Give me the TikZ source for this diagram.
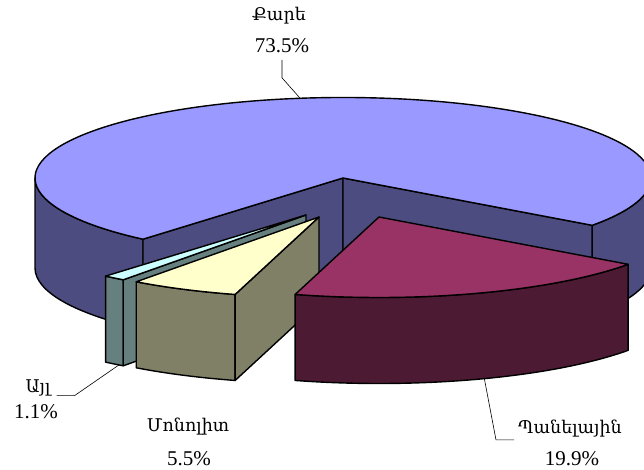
\documentclass[tikz,border=0pt]{standalone}
\usepackage{fontspec}
\setmainfont{Liberation Serif}
\newfontfamily\armfont{DejaVu Serif}
\definecolor{karetop}{HTML}{9999FF}
\definecolor{karesid}{HTML}{4C4C80}
\definecolor{paneltop}{HTML}{993366}
\definecolor{panelsid}{HTML}{4D1A33}
\definecolor{monotop}{HTML}{FFFFCC}
\definecolor{monosid}{HTML}{808066}
\definecolor{ayltop}{HTML}{CCFFFF}
\definecolor{aylsid}{HTML}{668080}
\begin{document}
\begin{tikzpicture}[x=1pt,y=1pt,
  slab/.style={draw=black,line width=1.4pt,line join=round},
  rim/.style={x radius=308pt,y radius=80.5pt},
  pctlbl/.style={font=\fontsize{21}{24}\selectfont,inner sep=1pt},
  armlbl/.style={font=\armfont\fontsize{17.5}{20}\selectfont,inner sep=1pt},
  leadline/.style={draw=black,line width=0.6pt}]
\useasboundingbox (0,0) rectangle (644,470);
\coordinate (K) at (343,292);
\coordinate (A) at (306,255);
\coordinate (M) at (319,253);
\coordinate (P) at (379,253);
% Kare
\filldraw[slab,fill=karesid] (K) ++(180:308pt and 80.5pt) arc[rim,start angle=180,end angle=229.5] -- ++(0,-90) arc[rim,start angle=229.5,end angle=180] -- cycle;
\filldraw[slab,fill=karesid] (K) ++(324:308pt and 80.5pt) arc[rim,start angle=324,end angle=360] -- ++(0,-90) arc[rim,start angle=360,end angle=324] -- cycle;
\filldraw[slab,fill=karesid] (K) -- ++(229.5:308pt and 80.5pt) -- ++(0,-90) -- ([yshift=-90pt]K) -- cycle;
\filldraw[slab,fill=karesid] (K) -- ++(324:308pt and 80.5pt) -- ++(0,-90) -- ([yshift=-90pt]K) -- cycle;
\filldraw[slab,fill=karetop] (K) -- ++(324:308pt and 80.5pt) arc[rim,start angle=324,end angle=589.5] -- cycle;
% Ayl
\filldraw[slab,fill=aylsid] (A) ++(229.4:308pt and 80.5pt) arc[rim,start angle=229.4,end angle=233.6] -- ++(0,-86) arc[rim,start angle=233.6,end angle=229.4] -- cycle;
\filldraw[slab,fill=aylsid] (A) -- ++(233.6:308pt and 80.5pt) -- ++(0,-86) -- ([yshift=-86pt]A) -- cycle;
\filldraw[slab,fill=ayltop] (A) -- ++(229.4:308pt and 80.5pt) arc[rim,start angle=229.4,end angle=233.6] -- cycle;
% Monolit
\filldraw[slab,fill=monosid] (M) ++(233.6:308pt and 80.5pt) arc[rim,start angle=233.6,end angle=254.2] -- ++(0,-86) arc[rim,start angle=254.2,end angle=233.6] -- cycle;
\filldraw[slab,fill=monosid] (M) -- ++(254.2:308pt and 80.5pt) -- ++(0,-86) -- ([yshift=-86pt]M) -- cycle;
\filldraw[slab,fill=monotop] (M) -- ++(233.6:308pt and 80.5pt) arc[rim,start angle=233.6,end angle=254.2] -- cycle;
% Panelayin
\filldraw[slab,fill=panelsid] (P) ++(254.2:308pt and 80.5pt) arc[rim,start angle=254.2,end angle=324] -- ++(0,-86) arc[rim,start angle=324,end angle=254.2] -- cycle;
\filldraw[slab,fill=paneltop] (P) -- ++(254.2:308pt and 80.5pt) arc[rim,start angle=254.2,end angle=324] -- cycle;
% labels
\node[armlbl] (kare name) at (279,454) {Քարե};
\node[pctlbl] (kare pct) at (282,424.5) {73.5\%};
\node[armlbl] (ayl name) at (38,82) {Այլ};
\node[pctlbl] (ayl pct) at (36,58) {1.1\%};
\node[armlbl] (mono name) at (188,43) {Մոնոլիտ};
\node[pctlbl] (mono pct) at (189,11.3) {5.5\%};
\node[armlbl] (panel name) at (570,41) {Պանելային};
\node[pctlbl] (panel pct) at (572,11) {19.9\%};
% leaders
\path (K) ++(98:308pt and 80.5pt) coordinate (kare tip);
\path (A) ++(232.6:308pt and 80.5pt) ++(0,-86) coordinate (ayl tip);
\path (P) ++(290:308pt and 80.5pt) ++(0,-86) coordinate (panel tip);
\draw[leadline] ([yshift=-6pt]kare pct.south) -- ++(0,-18) -- (kare tip);
\draw[leadline] ([shift={(5pt,-3pt)}]ayl name.base east) -- ++(18,0) -- (ayl tip);
\coordinate (panel end) at ([shift={(-3pt,-6pt)}]panel name.base west);
\draw[leadline] (panel tip) -- ([xshift=-18pt]panel end) -- (panel end);
\end{tikzpicture}
\end{document}
